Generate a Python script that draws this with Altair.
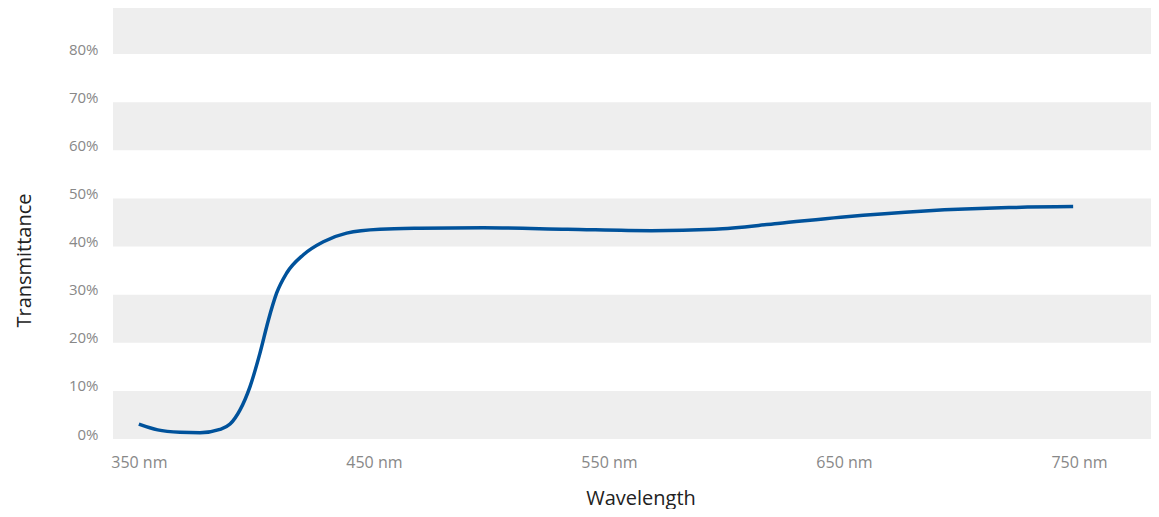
import altair as alt
import pandas as pd

wavelength = [350, 358, 367.5, 376, 384.5, 388.8, 393, 397.3, 401.5, 405.1, 408.6, 412.9, 420, 428.5,
              438.4, 452.6, 469.6, 496.5, 532.3, 568.1, 594.9, 621.8, 648.6, 684.4, 720.2, 747.5]
transmittance = [3.1, 1.9, 1.4, 1.3, 2.0, 3.1, 6.0, 10.9, 17.8, 24.7, 30.3, 34.5, 38.3, 41.0,
                 42.8, 43.6, 43.8, 43.9, 43.6, 43.3, 43.6, 44.8, 46.1, 47.4, 48.1, 48.3]

band_lo = [0, 20, 40, 60, 80]
band_hi = [10, 30, 50, 70, 90]
x_ticks = [350, 450, 550, 650, 750]
y_ticks = [0, 10, 20, 30, 40, 50, 60, 70, 80]

W, H = 1045, 433
FONT = "Open Sans"

line_df = pd.DataFrame({"wl": wavelength, "t": transmittance})
band_df = pd.DataFrame({"lo": band_lo, "hi": band_hi})

x_scale = alt.Scale(domain=[339, 783.6], nice=False, zero=False)
y_scale = alt.Scale(domain=[0, 90], nice=False)

y_axis = alt.Axis(values=y_ticks, labelExpr="datum.value + '%'", grid=False, domain=False,
                  ticks=False, labelFont=FONT, labelFontSize=15, labelColor="#888888",
                  labelPadding=15, labelBaseline="alphabetic", labelFlush=False,
                  titleFont=FONT, titleFontSize=20, titleFontWeight="normal", titleColor="#222222",
                  titleBaseline="alphabetic", titleX=-83, titleY=254, titleAngle=-90)

x_axis = alt.Axis(values=x_ticks, labelExpr="datum.value + ' nm'", grid=False, domain=False,
                  ticks=False, labelFont=FONT, labelFontSize=16, labelColor="#888888",
                  labelPadding=15, labelFlush=False,
                  titleFont=FONT, titleFontSize=20, titleFontWeight="normal", titleColor="#222222",
                  titleBaseline="alphabetic", titleY=65, titleX=W / 2 + 5)

bands = alt.Chart(band_df).mark_rect(color="#eeeeee").encode(
    x=alt.value(0), x2=alt.value(W),
    y=alt.Y("lo:Q", scale=y_scale, title="Transmittance", axis=y_axis),
    y2="hi:Q",
)

line = alt.Chart(line_df).mark_line(color="#00529b", strokeWidth=3.5, interpolate="monotone").encode(
    x=alt.X("wl:Q", scale=x_scale, title="Wavelength", axis=x_axis),
    y=alt.Y("t:Q", scale=y_scale, title="Transmittance", axis=y_axis),
)

chart = alt.layer(bands, line).properties(
    width=W, height=H,
    autosize="none",
    padding={"left": 105, "top": -2, "right": -7, "bottom": 70},
).configure_view(stroke=None)

chart.save("out.html", embed_options={"renderer": "svg", "actions": False})
